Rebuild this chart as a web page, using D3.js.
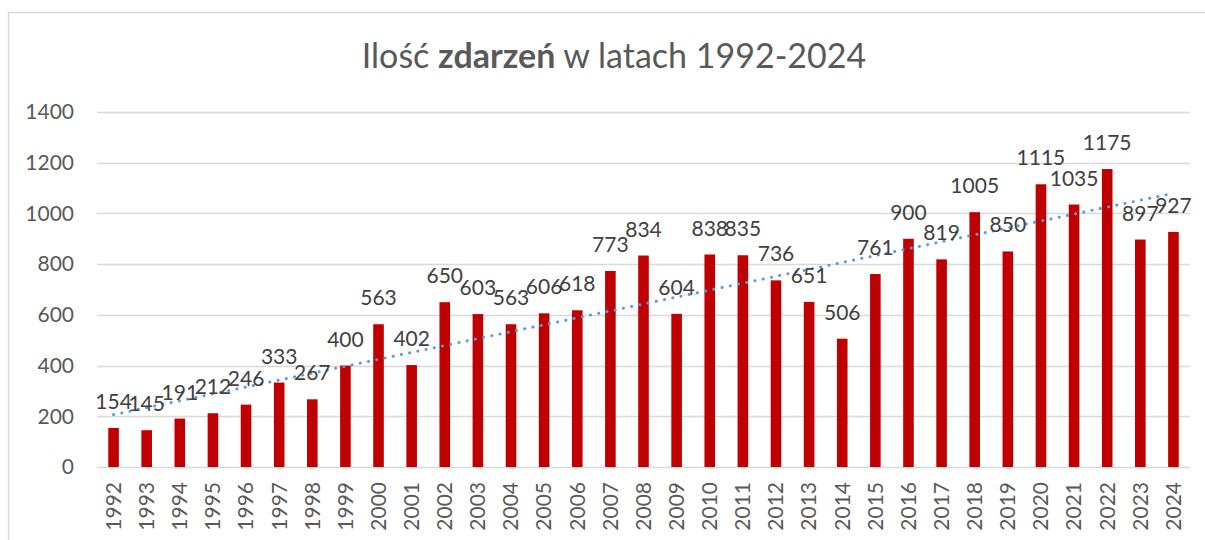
<!DOCTYPE html>
<html>
<head>
<meta charset="utf-8">
<script src="https://cdn.jsdelivr.net/npm/d3@7"></script>
<style>
  body { margin: 0; background: #fff; }
  svg { display: block; font-family: Lato, "Open Sans", sans-serif; }
</style>
</head>
<body>
<svg id="chart" width="1205" height="540"></svg>
<script>
// data
var years = ["1992","1993","1994","1995","1996","1997","1998","1999","2000","2001",
  "2002","2003","2004","2005","2006","2007","2008","2009","2010","2011","2012",
  "2013","2014","2015","2016","2017","2018","2019","2020","2021","2022","2023","2024"];
var counts = [154,145,191,212,246,333,267,400,563,402,650,603,563,606,618,773,834,
  604,838,835,736,651,506,761,900,819,1005,850,1115,1035,1175,897,927];
var yTicks = [0,200,400,600,800,1000,1200,1400];

var svg = d3.select("#chart");

// chart frame
svg.append("rect")
  .attr("x", 8.5).attr("y", 12.5)
  .attr("width", 1210).attr("height", 540)
  .attr("fill", "none")
  .attr("stroke", "#d9d9d9")
  .attr("stroke-width", 1.5);

var plot = {left: 97, right: 1190, top: 112, bottom: 467};

var x = d3.scaleBand()
  .domain(years)
  .range([plot.left, plot.right])
  .paddingInner(0.68)
  .paddingOuter(0.34);

var y = d3.scaleLinear()
  .domain([0, 1400])
  .range([plot.bottom, plot.top]);

//title
var title = svg.append("text")
  .attr("x", 614).attr("y", 68)
  .attr("text-anchor", "middle")
  .attr("font-size", 34)
  .attr("fill", "#595959");
title.append("tspan").text("Ilość ");
title.append("tspan").attr("font-weight", "bold").text("zdarzeń");
title.append("tspan").text(" w latach 1992-2024");

//gridlines
svg.append("g")
  .selectAll("line")
  .data(yTicks)
  .enter()
  .append("line")
    .attr("x1", plot.left).attr("x2", plot.right)
    .attr("y1", function(d) { return Math.round(y(d)) + 0.5; })
    .attr("y2", function(d) { return Math.round(y(d)) + 0.5; })
    .attr("stroke", "#d9d9d9")
    .attr("stroke-width", 1.5);

//y axis labels
var yAxis = svg.append("g")
  .attr("transform", "translate(" + (plot.left - 23) + ",0)")
  .call(d3.axisLeft(y).tickValues(yTicks).tickFormat(d3.format("d"))
    .tickSize(0).tickPadding(0));
yAxis.select(".domain").remove();
yAxis.selectAll("text")
  .attr("font-size", 21)
  .attr("font-family", "Lato, sans-serif")
  .attr("fill", "#595959");

//x axis labels (rotated)
var xAxis = svg.append("g")
  .attr("transform", "translate(0," + plot.bottom + ")")
  .call(d3.axisBottom(x).tickSize(0));
xAxis.select(".domain").remove();
xAxis.selectAll("text")
  .attr("font-size", 21)
  .attr("font-family", "Lato, sans-serif")
  .attr("fill", "#595959")
  .attr("text-anchor", "end")
  .attr("transform", "translate(0,15) rotate(-90)")
  .attr("x", 0).attr("y", 0)
  .attr("dy", "0.35em");

//bars
svg.append("g")
  .selectAll("rect")
  .data(counts)
  .enter()
  .append("rect")
    .attr("x", function(d, i) { return x(years[i]); })
    .attr("width", x.bandwidth())
    .attr("y", function(d) { return y(d); })
    .attr("height", function(d) { return y(0) - y(d); })
    .attr("fill", "#c00000");

//linear trendline (least squares over the bars)
var idx = counts.map(function(d, i) { return i; });
var mx = d3.mean(idx), my = d3.mean(counts);
var slope = d3.sum(idx, function(i) { return (i - mx) * (counts[i] - my); }) /
            d3.sum(idx, function(i) { return (i - mx) * (i - mx); });
var icept = my - slope * mx;
var trend = [0, counts.length - 1].map(function(i) {
  return {year: years[i], value: icept + slope * i};
});

svg.append("path")
  .datum(trend)
  .attr("d", d3.line()
    .x(function(d) { return x(d.year) + x.bandwidth() / 2; })
    .y(function(d) { return y(d.value); }))
  .attr("fill", "none")
  .attr("stroke", "#5b9bd5")
  .attr("stroke-width", 3)
  .attr("stroke-linecap", "round")
  .attr("stroke-dasharray", "0.1 8.3");

//value labels
svg.append("g")
  .selectAll("text")
  .data(counts)
  .enter()
  .append("text")
    .attr("x", function(d, i) { return x(years[i]) + x.bandwidth() / 2; })
    .attr("y", function(d) { return y(d) - 19; })
    .attr("text-anchor", "middle")
    .attr("font-size", 21)
    .attr("fill", "#404040")
    .text(function(d) { return d; });
</script>
</body>
</html>
